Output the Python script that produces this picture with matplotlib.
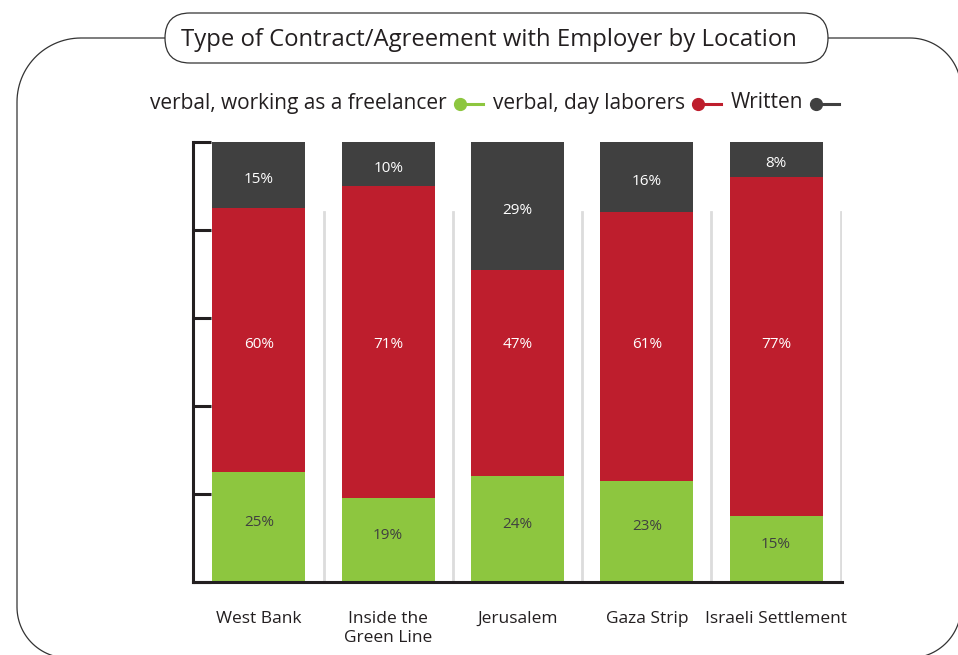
import matplotlib
matplotlib.use("Agg")
import matplotlib.pyplot as plt
from matplotlib.patches import FancyBboxPatch, PathPatch
from matplotlib.path import Path
from matplotlib.transforms import Affine2D
from matplotlib.lines import Line2D
import numpy as np

plt.rcParams['font.family'] = ['Open Sans', 'DejaVu Sans']

# data
locations = ['West Bank', 'Inside the\nGreen Line', 'Jerusalem', 'Gaza Strip', 'Israeli Settlement']
freelancer = [25, 19, 24, 23, 15]
day_laborers = [60, 71, 47, 61, 77]
written = [15, 10, 29, 16, 8]
series_names = ['verbal, working as a freelancer', 'verbal, day laborers', 'Written']

GREEN = '#8dc63f'
RED = '#be1e2d'
DARK = '#404040'
INK = '#231f20'

W, H = 958, 655
fig = plt.figure(figsize=(W / 100, H / 100), dpi=100)

def px(x, y):
  # pixel (from top-left) -> figure fraction
  return x / W, 1 - y / H

# pixel coords (origin top-left) -> display
pix = Affine2D().scale(1, -1).translate(0, H)

def arc(cx, cy, r, a0, a1):
  a = np.radians(np.linspace(a0, a1, 30))
  return list(zip(cx + r * np.cos(a), cy - r * np.sin(a)))

# outer rounded frame, drawn in pixel space
L, T, R, B = 17, 38, 961, 658
pts = []
pts += arc(L + 64, T + 64, 64, 180, 90)     # top-left
pts += arc(R - 51, T + 51, 51, 90, 0)       # top-right
pts += arc(R - 51, B - 51, 51, 0, -90)      # bottom-right
pts += arc(L + 51, B - 51, 51, -90, -180)   # bottom-left
pts.append(pts[0])
frame = PathPatch(Path(pts), transform=pix, fill=False,
                  edgecolor='#333333', linewidth=0.9, zorder=1)
fig.add_artist(frame)

# title pill
tbox = FancyBboxPatch((1.65, 5.92), 6.63, 0.50,
                      boxstyle='round,pad=0,rounding_size=0.25',
                      transform=fig.dpi_scale_trans, facecolor='white',
                      edgecolor='#333333', linewidth=0.9, zorder=2)
fig.add_artist(tbox)
fig.text(*px(489, 40), 'Type of Contract/Agreement with Employer by Location',
         ha='center', va='center', fontsize=17.2, color=INK, zorder=3)

# legend row
legend_items = [(series_names[0], GREEN, 447), (series_names[1], RED, 685), (series_names[2], DARK, 803)]
for name, col, xr in legend_items:
  fig.text(*px(xr, 103), name, ha='right', va='center', fontsize=15, color=INK)
  x0, y0 = px(xr + 13, 104)
  x1, _ = px(xr + 36, 104)
  fig.add_artist(Line2D([x0, x1], [y0, y0], color=col, linewidth=2.2,
                        transform=fig.transFigure))
  fig.add_artist(Line2D([x0], [y0], marker='o', markersize=8.5, color=col,
                        transform=fig.transFigure))

# axes
l, b = px(193, 582)
r, t = px(842, 142)
ax = fig.add_axes([l, b, r - l, t - b])

x = np.arange(len(locations))
fr = np.array(freelancer)
dl = np.array(day_laborers)
wr = np.array(written)
bw = 0.72

# separators between columns
for xi in x:
  ax.plot([xi + 0.5, xi + 0.5], [0, 84], color='#dcdcdc', linewidth=2, zorder=1)

ax.bar(x, fr, bw, color=GREEN, zorder=2)
ax.bar(x, dl, bw, bottom=fr, color=RED, zorder=2)
ax.bar(x, wr, bw, bottom=fr + dl, color=DARK, zorder=2)

for i in x:
  ax.text(i, fr[i] / 2 + 1, f'{fr[i]}%', ha='center', va='center', fontsize=11, color=DARK, zorder=3)
  ax.text(i, 54, f'{dl[i]}%', ha='center', va='center', fontsize=11, color='white', zorder=3)
  ax.text(i, fr[i] + dl[i] + wr[i] / 2 - 1, f'{wr[i]}%', ha='center', va='center',
          fontsize=11, color='white', zorder=3)

ax.set_xlim(-0.51, 4.51)
ax.set_ylim(0, 100)
for s in ['top', 'right']:
  ax.spines[s].set_visible(False)
for s in ['left', 'bottom']:
  ax.spines[s].set_linewidth(2.2)
  ax.spines[s].set_color(INK)
ax.set_yticks([0, 20, 40, 60, 80, 100])
ax.set_yticklabels([])
ax.tick_params(axis='y', direction='in', length=13, width=2.2, color=INK)
ax.set_xticks(x)
ax.set_xticklabels(locations, fontsize=12.5, color=INK, linespacing=1.2, va='top')
ax.tick_params(axis='x', length=0, pad=21)
ax.patch.set_alpha(0)

fig.savefig('out.png', dpi=100)
